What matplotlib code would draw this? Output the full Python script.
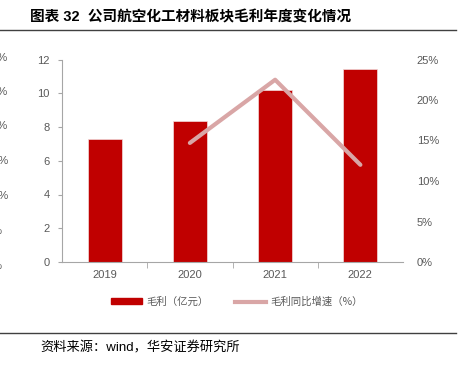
import matplotlib
matplotlib.use("Agg")
import matplotlib.pyplot as plt
from matplotlib.patches import Patch
from matplotlib.lines import Line2D
import matplotlib.ticker as mticker

plt.rcParams["font.family"] = ["Liberation Sans", "Noto Sans CJK SC", "DejaVu Sans"]

# data
years = ["2019", "2020", "2021", "2022"]
gross_profit = [7.26, 8.33, 10.19, 11.42]  # 亿元
growth_years = ["2020", "2021", "2022"]
growth_rate = [14.7, 22.5, 12.0]  # %

bar_color = "#C00000"
line_color = "#D9A6A6"
tick_color = "#595959"
axis_color = "#A6A6A6"

W, H = 458, 367
fig = plt.figure(figsize=(W / 100, H / 100), dpi=100)


def fx(px):
    return px / W


def fy(py):
    return 1 - py / H


ax1 = fig.add_axes([fx(62), fy(262), fx(403 - 62), (262 - 59.5) / H])
x = list(range(len(years)))
ax1.bar(x, gross_profit, width=0.40, color=bar_color, edgecolor="#F2DCDB", linewidth=0.5)
ax1.set_xlim(-0.5, 3.5)
ax1.set_ylim(0, 12)
ax1.set_yticks(range(0, 13, 2))
ax1.set_xticks(x)
ax1.set_xticklabels(years)
ax1.set_xticks([0.5, 1.5, 2.5], minor=True)
ax1.tick_params(axis="x", which="major", length=0, pad=6, labelsize=8, labelcolor=tick_color)
ax1.tick_params(axis="x", which="minor", length=4, direction="out", color=axis_color)
ax1.tick_params(axis="y", length=3, direction="out", color=axis_color, pad=6,
                labelsize=8, labelcolor=tick_color)
for side in ["top", "right"]:
    ax1.spines[side].set_visible(False)
ax1.spines["left"].set_color(axis_color)
ax1.spines["bottom"].set_color(axis_color)

ax2 = ax1.twinx()
gx = [years.index(y) for y in growth_years]
ax2.plot(gx, growth_rate, color=line_color, linewidth=3, solid_capstyle="round")
ax2.set_ylim(0, 25)
ax2.set_yticks(range(0, 26, 5))
ax2.yaxis.set_major_formatter(mticker.FormatStrFormatter("%d%%"))
ax2.tick_params(axis="y", length=0, pad=10, labelsize=8, labelcolor=tick_color)
for side in ["top", "right", "left", "bottom"]:
    ax2.spines[side].set_visible(False)

# title and rules
fig.text(fx(30), fy(17), "图表 32  公司航空化工材料板块毛利年度变化情况",
         fontsize=10.5, fontweight="bold", va="center", ha="left",
         family=["Liberation Sans", "Noto Sans CJK SC"])
fig.add_artist(Line2D([0, fx(456)], [fy(30), fy(30)], color="#404040", linewidth=1))
fig.add_artist(Line2D([0, fx(456)], [fy(333), fy(333)], color="#404040", linewidth=1))
fig.text(fx(40), fy(348), "资料来源：wind，华安证券研究所", fontsize=9.5, va="center", ha="left",
         family=["Liberation Sans", "Noto Sans CJK SC"])

# leftover labels from a neighbouring chart, cut off at the left edge
left_pos = [58, 92, 126, 161, 196, 231, 266]
left_labels = ["30%", "25%", "20%", "15%", "10%", "5%", "0%"]
left_x = [8, 8, 8, 8, 8, 3, 3]
for py, lab, px in zip(left_pos, left_labels, left_x):
    fig.text(fx(px), fy(py), lab, fontsize=8, color=tick_color, ha="right", va="center")

# legend
handles = [Patch(facecolor=bar_color, edgecolor=bar_color),
           Line2D([0], [0], color=line_color, linewidth=3)]
leg = fig.legend(handles, ["毛利（亿元）", "毛利同比增速（%）"], loc="center",
                 bbox_to_anchor=(fx(237), fy(302)), ncol=2, frameon=False,
                 handlelength=3, handleheight=0.5, columnspacing=2.5,
                 handletextpad=0.4, prop={"family": ["Noto Sans CJK SC"], "size": 7.5})
for t in leg.get_texts():
    t.set_color(tick_color)

fig.savefig("out.png", dpi=100)
